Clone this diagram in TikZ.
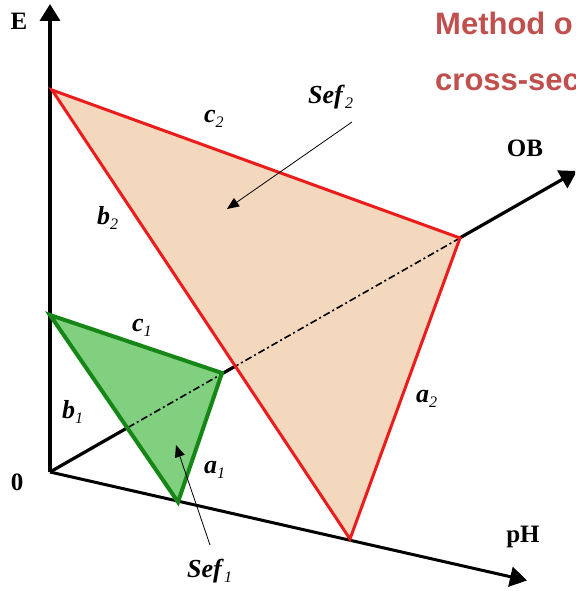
\documentclass[tikz,border=0pt]{standalone}
\usepackage{fontspec}
\setmainfont{Liberation Serif}
\newfontfamily\titlefont{Liberation Sans}
\usetikzlibrary{arrows.meta}
\definecolor{titlered}{RGB}{192,80,77}
\definecolor{peach}{RGB}{243,216,190}
\definecolor{greenfill}{RGB}{128,208,128}
\definecolor{darkgreen}{RGB}{22,135,22}
\definecolor{edgered}{RGB}{235,28,28}
\newcommand\lab[2]{\textbf{\textit{#1}}\raisebox{-0.22em}{\fontsize{16}{16}\selectfont\textit{#2}}}
\begin{document}
\begin{tikzpicture}[x=1pt,y=-1pt,
  axisline/.style={line width=3.5pt,-{Triangle[length=17pt,width=20pt]}},
  dashaxis/.style={line width=1.6pt,dash pattern=on 7pt off 3pt on 2pt off 3pt},
  pointer/.style={line width=0.8pt,-{Triangle[length=12pt,width=10pt]}},
  axlab/.style={font=\fontsize{25}{25}\selectfont\bfseries,anchor=base,inner sep=0pt},
  edgelab/.style={font=\fontsize{26}{26}\selectfont,anchor=base west,inner sep=0pt},
  titletext/.style={font=\titlefont\fontsize{31}{31}\selectfont\bfseries,text=titlered,anchor=base west,inner sep=0pt}]
\useasboundingbox (0,0) rectangle (575,591);
\clip (0,0) rectangle (575,591);
% points
\coordinate (O) at (50,472);
\coordinate (Etip) at (50,4);
\coordinate (pHtip) at (527,580.5);
\coordinate (OBtip) at (577,171);
\coordinate (G1) at (50,315);
\coordinate (Gc) at (222,373);
\coordinate (Gp) at (178,502);
\coordinate (R1) at (52,90);
\coordinate (Rc) at (460,238);
\coordinate (Rp) at (350,539);
% axes
\draw[axisline] (O) -- (Etip);
\draw[axisline,line width=3pt] (O) -- (pHtip);
\draw[axisline,line width=3.2pt] (O) -- (OBtip);
% surfaces
\fill[peach] (R1) -- (Rc) -- (Rp) -- cycle;
\fill[greenfill] (G1) -- (Gc) -- (Gp) -- cycle;
\draw[dashaxis] (O) -- (Rc);
\draw[draw=edgered,line width=3pt] (R1) -- (Rc) -- (Rp) -- cycle;
\draw[draw=darkgreen,line width=4pt] (G1) -- (Gc) -- (Gp) -- cycle;
% pointers
\coordinate (S1from) at (210,545);
\coordinate (S1to) at (176,445);
\coordinate (S2from) at (352,122);
\coordinate (S2to) at (227,209);
\draw[pointer] (S1from) -- (S1to);
\draw[pointer] (S2from) -- (S2to);
% axis labels
\node[axlab] (lE) at (19,30) {E};
\node[axlab] (l0) at (17,490) {0};
\node[axlab] (lpH) at (523,542) {pH};
\node[axlab] (lOB) at (525,156) {OB};
% edge labels
\node[edgelab] (lc2) at (204,122) {\lab{c}{2}};
\node[edgelab] (lS2) at (308,103) {\lab{Sef}{2}};
\node[edgelab] (lb2) at (97,224) {\lab{b}{2}};
\node[edgelab] (la2) at (416,402) {\lab{a}{2}};
\node[edgelab] (lc1) at (132,331) {\lab{c}{1}};
\node[edgelab] (lb1) at (62,418) {\lab{b}{1}};
\node[edgelab] (la1) at (204,473) {\lab{a}{1}};
\node[edgelab] (lS1) at (187,577) {\lab{Sef}{1}};
% title
\node[titletext] (t1) at (435,35) {Method o};
\node[titletext] (t2) at (435,91) {cross-sec};
\end{tikzpicture}
\end{document}
